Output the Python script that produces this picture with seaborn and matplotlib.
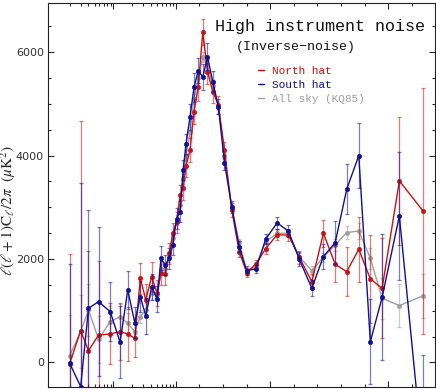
import numpy as np
import matplotlib
matplotlib.use("Agg")
import matplotlib.pyplot as plt
from matplotlib.lines import Line2D
from matplotlib.ticker import FixedLocator, MultipleLocator, NullFormatter
import seaborn as sns

# multipole bins
ell = [2, 3, 4, 5.8, 8.9, 12.8, 17, 22, 27, 33, 41, 50, 58, 67, 79, 89,
       103, 118, 131, 143, 160, 177, 195, 214, 234, 256, 280, 306, 337, 368,
       400, 439, 481, 529, 577, 623, 676, 725, 775, 824, 875, 924, 974, 1047, 1146]

north = [-20, 615, 228, 532, 551, 596, 551, 468, 1629, 1209, 1660, 1338, 1725, 1712, 2112, 2499,
         2712, 3240, 3369, 3800, 4110, 4851, 5335, 6387, 5625, 5238, 4981, 4110, 2950, 2143,
         1737, 1905, 2201, 2472, 2460, 2034, 1563, 2499, 1899, 1756, 2190, 1615, 1435, 3511, 2936]
north_err = [2120, 4055, 1920, 1430, 590, 550, 530, 370, 300, 300, 280, 250, 230, 220, 200, 200,
             200, 200, 220, 220, 230, 250, 280, 250, 250, 220, 180, 150, 130, 100,
             80, 80, 100, 110, 120, 130, 150, 260, 350, 470, 630, 854, 967, 1235, 2380]

south = [-15, -468, 1048, 1176, 983, 391, 1402, 770, 1273, 900, 1466, 1222, 2015, 1886, 2015, 2273,
         2781, 2917, 3723, 4226, 4750, 5323, 5644, 5516, 5915, 5431, 4948, 3865, 3002, 2240,
         1776, 1809, 2389, 2698, 2538, 1996, 1435, 2047, 2317, 3350, 4000, 402, 1261, 2834, -1781]
south_err = [1915, 3935, 1900, 1440, 570, 700, 360, 300, 300, 350, 250, 250, 230, 200, 200, 200,
             200, 200, 200, 200, 250, 280, 250, 250, 260, 200, 150, 150, 120, 100,
             80, 80, 100, 110, 120, 140, 150, 240, 420, 485, 635, 820, 1220, 1230, 1926]

allsky = [132, 600, 1015, 449, 789, 886, 758, 596, 886, 1015, 1350, 1300, 1800, 1800, 2050, 2400,
          2750, 3050, 3550, 4000, 4450, 5100, 5500, 5900, 5750, 5350, 4960, 4000, 2980, 2337,
          1760, 1860, 2337, 2495, 2500, 2040, 1776, 2034, 2273, 2511, 2543, 2015, 1242, 1099, 1286]
allsky_err = [790, 700, 500, 450, 300, 250, 200, 150, 130, 130, 120, 120, 110, 110, 100, 100,
              100, 100, 100, 100, 100, 100, 100, 100, 100, 90, 80, 70, 60, 50,
              50, 50, 50, 60, 60, 70, 80, 90, 110, 130, 160, 200, 400, 420, 430]

sns.set_style("ticks")
plt.rcParams["mathtext.fontset"] = "stix"

# hybrid x axis: log up to l=100, linear above
K = 0.003776


def fwd(l):
    l = np.asarray(l, dtype=float)
    with np.errstate(divide="ignore", invalid="ignore"):
        return np.where(l <= 100, np.log10(np.clip(l, 1e-6, None)), 2 + (l - 100) * K)


def inv(u):
    u = np.asarray(u, dtype=float)
    with np.errstate(over="ignore", invalid="ignore"):
        return np.where(u <= 2, 10.0 ** np.minimum(u, 2), 100 + (u - 2) / K)


fig = plt.figure(figsize=(4.36, 3.89), dpi=100)
ax = fig.add_axes([48 / 436, 1.7 / 389, 387 / 436, 384.3 / 389])
ax.set_xscale("function", functions=(fwd, inv))

series = [
    ("All sky (KQ85)", allsky, allsky_err, "#a0a0a0"),
    ("North hat", north, north_err, "#d01010"),
    ("South hat", south, south_err, "#10109a"),
]

for label, vals, err, c in series:
    ax.errorbar(ell, vals, yerr=err, fmt="none", ecolor=c, elinewidth=0.9,
                capsize=1.5, capthick=0.9, alpha=0.55)
    sns.lineplot(x=ell, y=vals, ax=ax, color=c, linewidth=1.0, marker="o",
                 markersize=3, markeredgewidth=0.5, markeredgecolor=c,
                 sort=False, errorbar=None)

ax.set_xlim(0.9, 1198)
ax.set_ylim(-480, 6950)

ax.xaxis.set_major_locator(FixedLocator([10, 100, 500, 1000]))
ax.xaxis.set_minor_locator(FixedLocator([2, 3, 4, 5, 6, 7, 8, 9, 20, 30, 40, 50, 60, 70, 80, 90,
                                         200, 300, 400, 600, 700, 800, 900, 1100]))
ax.xaxis.set_major_formatter(NullFormatter())
ax.xaxis.set_minor_formatter(NullFormatter())
ax.yaxis.set_major_locator(MultipleLocator(2000))
ax.yaxis.set_minor_locator(MultipleLocator(500))

ax.tick_params(which="both", direction="in", top=True, right=True, width=0.8,
               labelsize=8, labelcolor="#333333", pad=3)
ax.tick_params(which="major", length=4.5)
ax.tick_params(which="minor", length=2.5)
for sp in ax.spines.values():
    sp.set_color("#222222")
    sp.set_linewidth(0.8)

ax.set_xlabel("")
ax.set_ylabel(r"$\ell(\ell+1)\mathrm{C}_\ell/2\pi\ \ (\mu\mathrm{K}^2)$", fontsize=11)
ax.yaxis.set_label_coords(-0.077, 0.46)

fig.text(320 / 436, 1 - 26 / 389, "High instrument noise", family="Liberation Mono",
         fontsize=12, ha="center", va="center", color="#111111")
fig.text(296 / 436, 1 - 47 / 389, "(Inverse\u2212noise)", family="Liberation Mono",
         fontsize=9.5, ha="center", va="center", color="#111111")

handles = [Line2D([], [], color=c, lw=1.0) for _, _, _, c in series]
order = [1, 2, 0]
ax.legend([handles[i] for i in order], [series[i][0] for i in order],
          loc="upper left", bbox_to_anchor=(258 / 436, 1 - 66 / 389),
          bbox_transform=fig.transFigure, frameon=False, handlelength=0.5,
          handletextpad=0.8, labelspacing=0.35, borderpad=0, borderaxespad=0,
          prop={"family": "Liberation Mono", "size": 8},
          labelcolor=[series[i][3] for i in order])

fig.savefig("out.png", dpi=100)
